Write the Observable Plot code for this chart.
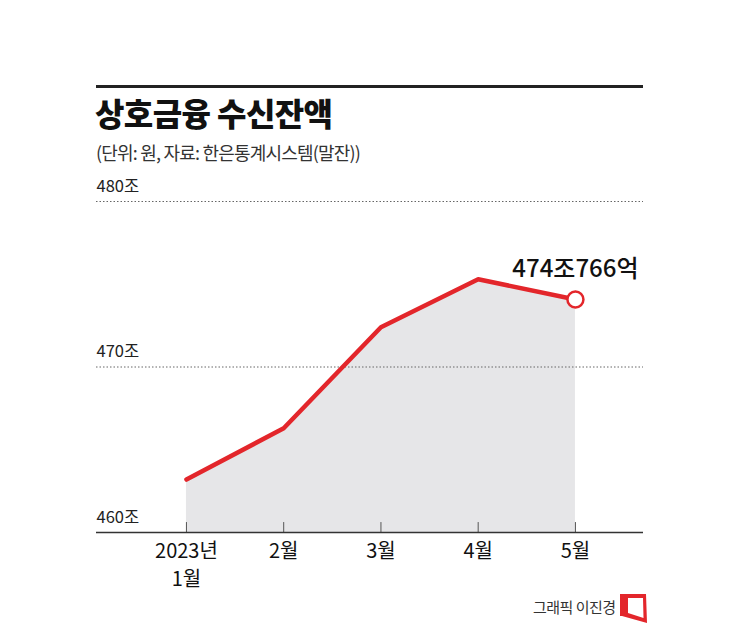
<!DOCTYPE html>
<html><head><meta charset="utf-8">
<script src="https://cdn.jsdelivr.net/npm/d3@7"></script>
<script src="https://cdn.jsdelivr.net/npm/@observablehq/plot@0.6"></script>
<style>
body{margin:0;background:#fff;font-family:"Noto Sans CJK KR","Noto Sans",sans-serif;}
#wrap{position:relative;width:745px;height:631px;overflow:hidden;}
#rule{position:absolute;left:96px;top:85px;width:547px;height:3px;background:#222;}
#title{position:absolute;left:95px;top:90px;font-size:32px;font-weight:900;letter-spacing:-0.6px;color:#111;line-height:44px;white-space:nowrap;}
#sub{position:absolute;left:96px;top:140px;font-size:18px;color:#333;letter-spacing:-0.8px;line-height:24px;white-space:nowrap;}
#credit{position:absolute;left:533px;top:597px;font-size:15px;color:#333;letter-spacing:-0.5px;line-height:20px;white-space:nowrap;}
#logo{position:absolute;left:618px;top:592px;}
#chart{position:absolute;left:0;top:0;}
</style></head>
<body>
<div id="wrap">
<div id="chart"></div>
<div id="rule"></div>
<div id="title">상호금융 수신잔액</div>
<div id="sub">(단위: 원, 자료: 한은통계시스템(말잔))</div>
<div id="credit">그래픽 이진경</div>
<svg id="logo" width="32" height="34" viewBox="0 0 32 34"><path fill-rule="evenodd" fill="#e3262b" d="M2,2 L28,2 L29,31 L4,24 L2,24 Z M10,6 L25,6 L25.5,26 L10,21 Z"/></svg>
</div>
<script>
const months = [1, 2, 3, 4, 5];
const monthLabels = ["2023년\n1월", "2월", "3월", "4월", "5월"];
const values = [463.2, 466.3, 472.4, 475.3, 474.08];
const yTicks = [460, 470, 480];
const yTickLabels = ["460조", "470조", "480조"];
const endLabel = "474조766억";

const red = "#e3262b";
const data = months.map((m, i) => ({m, v: values[i]}));
const last = [data[data.length - 1]];

const chart = Plot.plot({
  width: 745, height: 631,
  marginLeft: 96, marginRight: 102, marginTop: 201, marginBottom: 99,
  x: {domain: [0.075, 5.7], axis: null},
  y: {domain: [460, 480], axis: null},
  style: {fontFamily: '"Noto Sans CJK KR", "Noto Sans", sans-serif', background: "transparent"},
  marks: [
    Plot.areaY(data, {x: "m", y1: 460, y2: "v", fill: "#e6e6e8"}),
    Plot.ruleY(yTicks.filter(t => t > 460), {stroke: "#666", strokeDasharray: "1.5,2", strokeWidth: 1}),
    Plot.ruleX(months, {x: d => d, y1: 460, y2: 460.6, stroke: "#555", strokeWidth: 1}),
    Plot.ruleY([460], {stroke: "#333", strokeWidth: 1.5}),
    Plot.text(yTicks, {y: d => d, text: (d, i) => yTickLabels[i], frameAnchor: "left", textAnchor: "start", dy: -15, fontSize: 16.5, fill: "#222", letterSpacing: "-1px"}),
    Plot.text(months, {x: d => d, text: (d, i) => monthLabels[i], frameAnchor: "bottom", lineAnchor: "top", dy: 6, fontSize: 20, lineHeight: 1.4, fill: "#111", letterSpacing: "-0.8px"}),
    Plot.line(data, {x: "m", y: "v", stroke: red, strokeWidth: 4.5}),
    Plot.dot(last, {x: "m", y: "v", r: 8, fill: "white", stroke: red, strokeWidth: 2.5}),
    Plot.text(last, {x: "m", y: "v", text: () => endLabel, dy: -30, fontSize: 24, fontWeight: 500, fill: "#111", letterSpacing: "-1px"})
  ]
});
document.getElementById("chart").appendChild(chart);
</script>
</body></html>
